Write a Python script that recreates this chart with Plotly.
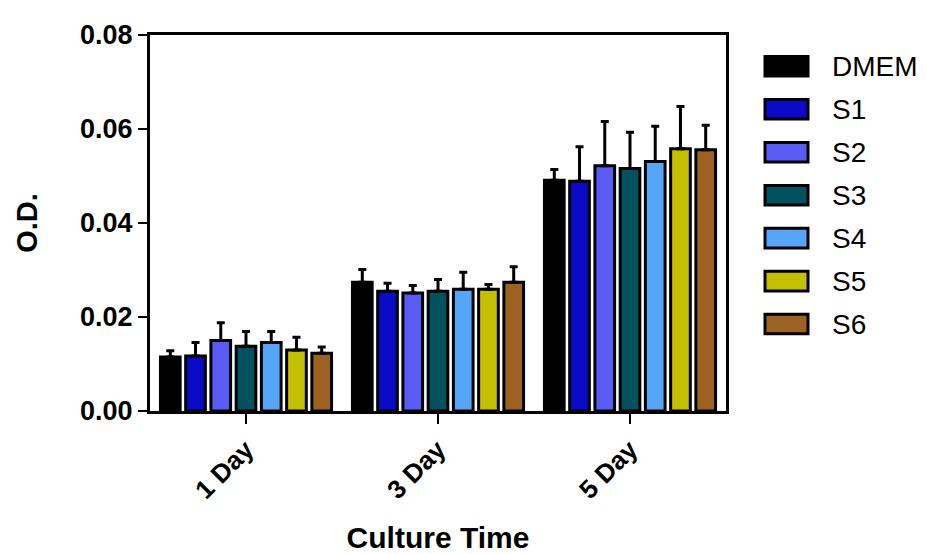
import plotly.graph_objects as go

categories = ["1 Day", "3 Day", "5 Day"]
series_names = ["DMEM", "S1", "S2", "S3", "S4", "S5", "S6"]
colors = ["#000000", "#0A0AC8", "#5A5AF5", "#03505E", "#56A5F7", "#C4C000", "#9C6221"]

dmem = [0.0115, 0.0274, 0.0491]
s1 = [0.0117, 0.0255, 0.0489]
s2 = [0.0150, 0.0251, 0.0522]
s3 = [0.0138, 0.0255, 0.0516]
s4 = [0.0146, 0.0259, 0.0531]
s5 = [0.0130, 0.0259, 0.0558]
s6 = [0.0123, 0.0274, 0.0556]

dmem_err = [0.0013, 0.0027, 0.0023]
s1_err = [0.0029, 0.0017, 0.0073]
s2_err = [0.0038, 0.0016, 0.0094]
s3_err = [0.0031, 0.0025, 0.0077]
s4_err = [0.0023, 0.0036, 0.0075]
s5_err = [0.0027, 0.0010, 0.0090]
s6_err = [0.0013, 0.0033, 0.0052]

y_ticks = [0.00, 0.02, 0.04, 0.06, 0.08]

values = [dmem, s1, s2, s3, s4, s5, s6]
errors = [dmem_err, s1_err, s2_err, s3_err, s4_err, s5_err, s6_err]

FONT = "Liberation Sans, Arial, sans-serif"
W, H = 927, 554
OFF = 8  # default page body margin
ML, MT = 150 - OFF, 28 - OFF
PR, PB = 726 - OFF, 413 - OFF   # plot right / bottom in figure px
MR, MB = W - PR, H - PB
plot_w = PR - ML
plot_h = PB - MT

fig = go.Figure()
for name, col, vals, errs in zip(series_names, colors, values, errors):
    fig.add_trace(go.Bar(
        name=name, x=categories, y=vals,
        marker=dict(color=col, line=dict(color="black", width=3)),
        error_y=dict(type="data", array=errs, arrayminus=[0] * len(errs),
                     symmetric=False, color="black", thickness=3, width=4),
        showlegend=False,
    ))

# Legend drawn as swatches + labels (layout decoration)
leg_top_px = 60 - OFF
leg_step_px = 44
sw_x0_px, sw_x1_px = 765 - OFF, 808 - OFF
sw_h_px = 20
txt_x_px = 830 - OFF
for i, (name, col) in enumerate(zip(series_names, colors)):
    yc = leg_top_px + i * leg_step_px
    y0 = (PB - (yc + sw_h_px / 2)) / plot_h
    y1 = (PB - (yc - sw_h_px / 2)) / plot_h
    fig.add_shape(type="rect", xref="paper", yref="paper",
                  x0=(sw_x0_px - ML) / plot_w, x1=(sw_x1_px - ML) / plot_w,
                  y0=y0, y1=y1, fillcolor=col,
                  line=dict(color="black", width=3))
    fig.add_annotation(xref="paper", yref="paper",
                       x=(txt_x_px - ML) / plot_w, y=(PB - yc) / plot_h,
                       text=name, showarrow=False, xanchor="left", yanchor="middle",
                       font=dict(family=FONT, size=28, color="black"))

fig.update_layout(
    width=W, height=H,
    margin=dict(l=ML, r=MR, t=MT, b=MB),
    paper_bgcolor="white", plot_bgcolor="white",
    barmode="group", bargap=0.08, bargroupgap=0.22,
    font=dict(family=FONT, color="black"),
    xaxis=dict(
        range=[-0.5, 2.5], showline=True, linecolor="black", linewidth=3,
        mirror=True, ticks="outside", ticklen=10, tickwidth=2, tickcolor="black",
        tickangle=-45, tickfont=dict(family=FONT, size=26, color="black", weight="bold"),
        title=dict(text="<b>Culture Time</b>", font=dict(family=FONT, size=30, color="black"),
                   standoff=24),
        showgrid=False, zeroline=False,
    ),
    yaxis=dict(
        range=[0, 0.08], tickvals=y_ticks, tickformat=".2f",
        showline=True, linecolor="black", linewidth=3, mirror=True,
        ticks="outside", ticklen=9, tickwidth=2, tickcolor="black",
        tickfont=dict(family=FONT, size=27, color="black", weight="bold"),
        title=dict(text="<b>O.D.</b>", font=dict(family=FONT, size=29, color="black"),
                   standoff=34),
        showgrid=False, zeroline=False,
    ),
)

fig.write_html("out.html")
